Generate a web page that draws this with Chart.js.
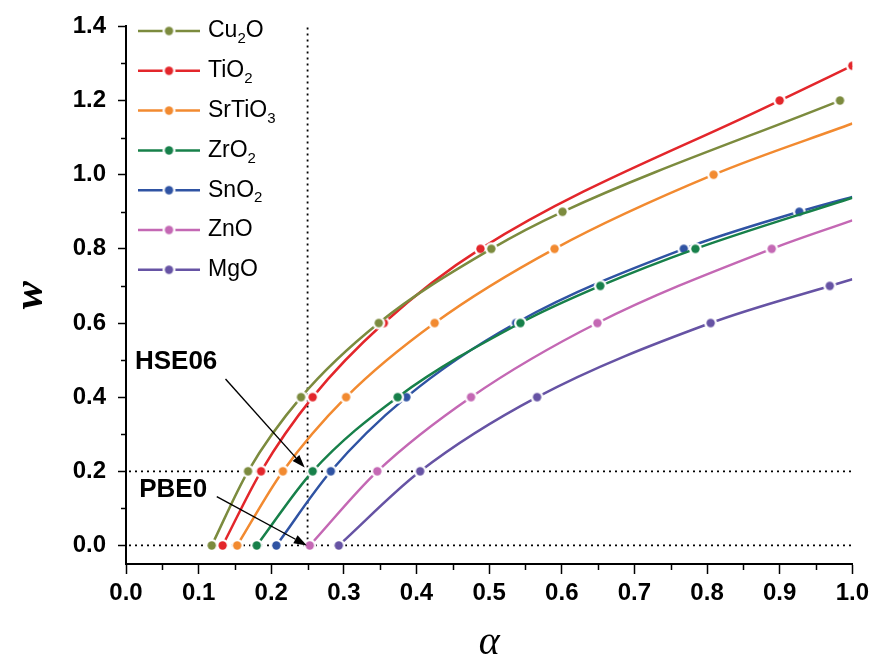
<!DOCTYPE html>
<html>
<head>
<meta charset="utf-8">
<script src="https://cdn.jsdelivr.net/npm/chart.js@4.4.0/dist/chart.umd.min.js"></script>
<style>
  html, body { margin: 0; padding: 0; background: #fff; }
</style>
</head>
<body>
<canvas id="chart" width="874" height="663"></canvas>
<script>
// series: alpha (x) and w (y) at each marker
const names = ['Cu2O', 'TiO2', 'SrTiO3', 'ZrO2', 'SnO2', 'ZnO', 'MgO'];
const colors = ['#7c8b3e', '#e3262b', '#f28a30', '#17804a', '#2f53a3', '#c468b4', '#6653a4'];

const cu2oA   = [0.118, 0.168, 0.241, 0.348, 0.503, 0.601, 0.983];
const cu2oW   = [0.0, 0.2, 0.4, 0.6, 0.8, 0.9, 1.2];
const tio2A   = [0.133, 0.186, 0.257, 0.355, 0.488, 0.900, 1.0];
const tio2W   = [0.0, 0.2, 0.4, 0.6, 0.8, 1.2, 1.294];
const srtio3A = [0.153, 0.216, 0.303, 0.425, 0.590, 0.809];
const srtio3W = [0.0, 0.2, 0.4, 0.6, 0.8, 1.0];
const zro2A   = [0.180, 0.257, 0.374, 0.543, 0.653, 0.784];
const zro2W   = [0.0, 0.2, 0.4, 0.6, 0.7, 0.8];
const sno2A   = [0.207, 0.282, 0.386, 0.537, 0.768, 0.927];
const sno2W   = [0.0, 0.2, 0.4, 0.6, 0.8, 0.9];
const znoA    = [0.253, 0.346, 0.475, 0.649, 0.889];
const znoW    = [0.0, 0.2, 0.4, 0.6, 0.8];
const mgoA    = [0.293, 0.405, 0.566, 0.805, 0.969];
const mgoW    = [0.0, 0.2, 0.4, 0.6, 0.7];

// w where the fitted curve leaves the plot at alpha = 1 (no marker there)
const endW = [null, null, 1.138, 0.938, 0.940, 0.877, 0.718];

const xTicks = [0, 0.1, 0.2, 0.3, 0.4, 0.5, 0.6, 0.7, 0.8, 0.9, 1.0];
const xMinor = [0.05, 0.15, 0.25, 0.35, 0.45, 0.55, 0.65, 0.75, 0.85, 0.95];
const yTicks = [0, 0.2, 0.4, 0.6, 0.8, 1.0, 1.2, 1.4];
const yMinor = [0.1, 0.3, 0.5, 0.7, 0.9, 1.1, 1.3];

// dotted guides (PBE0/HSE06 alpha, w levels) and the two labels
const refAlpha = 0.25;
const refW = [0, 0.2];
const notes = [
  { text: 'HSE06', at: [0.069, 0.495], from: [0.137, 0.449], to: [0.246, 0.210] },
  { text: 'PBE0',  at: [0.065, 0.151], from: [0.125, 0.132], to: [0.249, 0.0] }
];

const alphas = [cu2oA, tio2A, srtio3A, zro2A, sno2A, znoA, mgoA];
const ws = [cu2oW, tio2W, srtio3W, zro2W, sno2W, znoW, mgoW];

const SANS = '"Liberation Sans", Arial, sans-serif';

function markerImg(color) {
  const c = document.createElement('canvas');
  c.width = c.height = 15;
  const g = c.getContext('2d');
  g.fillStyle = '#fff';
  g.beginPath(); g.arc(7.5, 7.5, 6.5, 0, Math.PI * 2); g.fill();
  g.fillStyle = color;
  g.beginPath(); g.arc(7.5, 7.5, 4.2, 0, Math.PI * 2); g.fill();
  return c;
}
const markers = colors.map(markerImg);

const datasets = names.map((name, i) => {
  const pts = alphas[i].map((a, j) => ({ x: a, y: ws[i][j] }));
  const nMark = pts.length;
  if (endW[i] !== null) pts.push({ x: 1.0, y: endW[i] });
  return {
    label: name,
    data: pts,
    borderColor: colors[i],
    borderWidth: 2.5,
    cubicInterpolationMode: 'monotone',
    pointStyle: markers[i],
    pointRadius: ctx => (ctx.dataIndex < nMark ? 5 : 0),
    pointHoverRadius: 0
  };
});

function drawFormula(ctx, s, x, y) {
  for (const part of s.match(/\d+|\D+/g)) {
    const sub = /\d/.test(part);
    ctx.font = (sub ? '15px ' : '23px ') + SANS;
    ctx.fillText(part, x, sub ? y + 8 : y);
    x += ctx.measureText(part).width;
  }
}

const extras = {
  id: 'extras',
  beforeDatasetsDraw(chart) {
    const { ctx, scales: { x, y } } = chart;
    ctx.save();
    ctx.strokeStyle = '#000';
    ctx.lineWidth = 1.8;
    ctx.setLineDash([2, 4]);
    refW.forEach(v => {
      ctx.beginPath();
      ctx.moveTo(x.getPixelForValue(0) + 3, y.getPixelForValue(v));
      ctx.lineTo(x.getPixelForValue(1), y.getPixelForValue(v));
      ctx.stroke();
    });
    ctx.beginPath();
    ctx.moveTo(x.getPixelForValue(refAlpha), y.getPixelForValue(0));
    ctx.lineTo(x.getPixelForValue(refAlpha), y.getPixelForValue(1.4));
    ctx.stroke();
    ctx.restore();
  },
  afterDatasetsDraw(chart) {
    const { ctx, scales: { x, y }, chartArea } = chart;
    ctx.save();
    // minor ticks
    ctx.strokeStyle = '#000';
    ctx.lineWidth = 1.5;
    xMinor.forEach(v => {
      const px = Math.round(x.getPixelForValue(v)) + 0.5;
      ctx.beginPath(); ctx.moveTo(px, chartArea.bottom); ctx.lineTo(px, chartArea.bottom + 6); ctx.stroke();
    });
    yMinor.forEach(v => {
      const py = Math.round(y.getPixelForValue(v)) + 0.5;
      ctx.beginPath(); ctx.moveTo(chartArea.left, py); ctx.lineTo(chartArea.left - 5, py); ctx.stroke();
    });

    // annotations with arrows
    notes.forEach(n => {
      ctx.fillStyle = '#000';
      ctx.font = 'bold 26px ' + SANS;
      ctx.textAlign = 'center';
      ctx.textBaseline = 'middle';
      ctx.fillText(n.text, x.getPixelForValue(n.at[0]), y.getPixelForValue(n.at[1]));
      const x0 = x.getPixelForValue(n.from[0]), y0 = y.getPixelForValue(n.from[1]);
      const x1 = x.getPixelForValue(n.to[0]), y1 = y.getPixelForValue(n.to[1]);
      const ang = Math.atan2(y1 - y0, x1 - x0);
      const hl = 13, hw = 4.5;
      const bx = x1 - hl * Math.cos(ang), by = y1 - hl * Math.sin(ang);
      ctx.strokeStyle = '#000';
      ctx.lineWidth = 1.4;
      ctx.beginPath(); ctx.moveTo(x0, y0); ctx.lineTo(bx, by); ctx.stroke();
      ctx.beginPath();
      ctx.moveTo(x1, y1);
      ctx.lineTo(bx + hw * Math.sin(ang), by - hw * Math.cos(ang));
      ctx.lineTo(bx - hw * Math.sin(ang), by + hw * Math.cos(ang));
      ctx.closePath();
      ctx.fill();
    });

    // legend inside the plot, top left
    ctx.textAlign = 'left';
    ctx.textBaseline = 'middle';
    names.forEach((name, i) => {
      const ry = 31 + i * 39.8;
      ctx.strokeStyle = colors[i];
      ctx.lineWidth = 2.5;
      ctx.beginPath(); ctx.moveTo(138, ry); ctx.lineTo(200, ry); ctx.stroke();
      ctx.drawImage(markers[i], 169 - 7.5, ry - 7.5);
      ctx.fillStyle = '#000';
      drawFormula(ctx, name, 208, ry);
    });
    ctx.restore();
  }
};

new Chart(document.getElementById('chart'), {
  type: 'line',
  data: { datasets },
  options: {
    responsive: false,
    animation: false,
    events: [],
    layout: { padding: { left: 0, right: 20, top: 25, bottom: 0 } },
    plugins: { legend: { display: false }, tooltip: { enabled: false } },
    scales: {
      x: {
        type: 'linear',
        min: 0,
        max: 1,
        afterBuildTicks: s => { s.ticks = xTicks.map(v => ({ value: v })); },
        afterFit: s => { s.height = 99; },
        ticks: {
          color: '#000',
          font: { family: SANS, weight: 'bold', size: 24 },
          padding: 5,
          maxRotation: 0,
          callback: v => v.toFixed(1)
        },
        grid: { drawOnChartArea: false, tickLength: 10, tickColor: '#000', tickWidth: 1.5 },
        border: { color: '#000', width: 2 },
        title: {
          display: true,
          text: 'α',
          color: '#000',
          font: { family: '"Liberation Serif", "DejaVu Serif", serif', style: 'italic', size: 40, lineHeight: 1 },
          padding: { top: 0, bottom: 0 }
        }
      },
      y: {
        type: 'linear',
        min: -0.05,
        max: 1.4,
        afterBuildTicks: s => { s.ticks = yTicks.map(v => ({ value: v })); },
        afterFit: s => { s.width = 126; },
        ticks: {
          color: '#000',
          font: { family: SANS, weight: 'bold', size: 24 },
          padding: 12,
          callback: v => v.toFixed(1)
        },
        grid: { drawOnChartArea: false, tickLength: 8, tickColor: '#000', tickWidth: 1.5 },
        border: { color: '#000', width: 2 },
        title: {
          display: true,
          text: 'w',
          color: '#000',
          font: { family: '"Liberation Serif", "DejaVu Serif", serif', style: 'italic', weight: 'bold', size: 42, lineHeight: 1 },
          padding: { top: 10, bottom: 0 }
        }
      }
    }
  },
  plugins: [extras]
});
</script>
</body>
</html>
